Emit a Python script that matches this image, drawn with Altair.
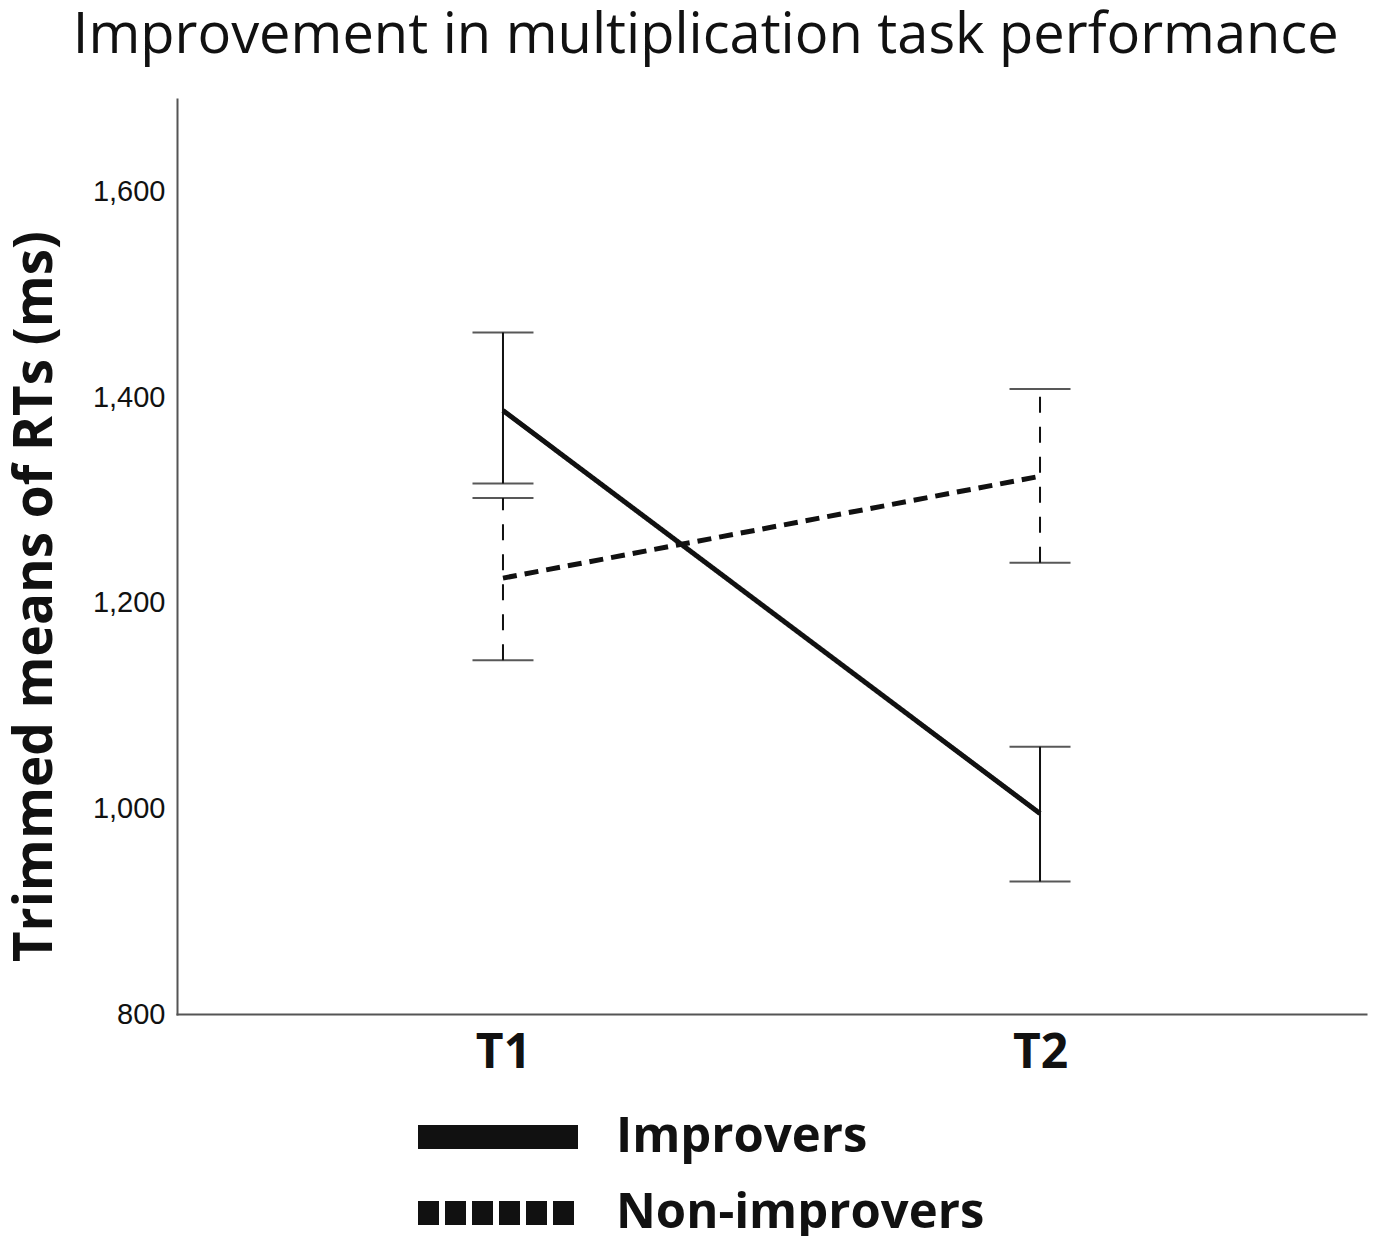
import altair as alt
import pandas as pd

times = ["T1", "T2"]
groups = ["Improvers", "Non-improvers"]
imp_mean = [1387, 995]
imp_low = [1316, 929]
imp_high = [1463, 1060]
non_mean = [1224, 1323]
non_low = [1144, 1239]
non_high = [1302, 1408]

rows = []
for i, t in enumerate(times):
    rows.append({"time": t, "group": groups[0], "mean": imp_mean[i], "low": imp_low[i], "high": imp_high[i]})
    rows.append({"time": t, "group": groups[1], "mean": non_mean[i], "low": non_low[i], "high": non_high[i]})
df = pd.DataFrame(rows)

INK = "#111111"
x_enc = alt.X("time:N", scale=alt.Scale(type="point", domain=times, padding=0.607),
              axis=alt.Axis(title=None, labelAngle=0, labelFont="Open Sans", labelFontWeight="bold",
                            labelFontSize=48, labelColor=INK, labelPadding=15, ticks=False,
                            domainColor="#555555", domainWidth=2))
y_scale = alt.Scale(domain=[800, 1690], nice=False, zero=False)
y_axis = alt.Axis(title="Trimmed means of RTs (ms)", values=[800, 1000, 1200, 1400, 1600], format=",d",
                  grid=False, ticks=False, labelFont="Liberation Sans", labelFontSize=29,
                  labelColor=INK, labelPadding=12, domainColor="#555555", domainWidth=2,
                  titleFont="Open Sans", titleFontWeight="bold", titleFontSize=53, titleColor=INK,
                  titlePadding=30, titleY=497)

dash_cond = alt.condition(alt.datum.group == "Non-improvers", alt.value([14, 8]), alt.value([1, 0]))
bar_dash = alt.condition(alt.datum.group == "Non-improvers", alt.value([16, 14]), alt.value([1, 0]))

base = alt.Chart(df)

lines = base.mark_line(color=INK, strokeWidth=5).encode(
    x=x_enc,
    y=alt.Y("mean:Q", scale=y_scale, axis=y_axis),
    detail="group:N",
    strokeDash=dash_cond,
)

bars = base.mark_rule(color=INK, strokeWidth=2).encode(
    x="time:N", y="low:Q", y2="high:Q", strokeDash=bar_dash,
)
cap_hi = base.mark_tick(color=INK, thickness=2, size=61, orient="horizontal").encode(
    x="time:N", y="high:Q", strokeDash=bar_dash,
)
cap_lo = base.mark_tick(color=INK, thickness=2, size=61, orient="horizontal").encode(
    x="time:N", y="low:Q", strokeDash=bar_dash,
)

legend_layer = base.mark_line(strokeWidth=0, color=INK).encode(
    x="time:N", y="mean:Q",
    strokeDash=alt.StrokeDash("group:N",
        scale=alt.Scale(domain=groups, range=[[1, 0], [21, 6]]),
        legend=alt.Legend(title=None, orient="none", legendX=293, legendY=1010,
                          symbolType="M-5,0H5", symbolSize=1024, symbolStrokeWidth=24,
                          symbolStrokeColor=INK, labelFont="Open Sans", labelFontWeight="bold",
                          labelFontSize=49, labelColor=INK, labelOffset=90, rowPadding=-21,
                          labelLimit=0, direction="vertical")),
)

chart = alt.layer(lines, bars, cap_hi, cap_lo, legend_layer).properties(
    width=1189, height=915,
    title=alt.TitleParams("Improvement in multiplication task performance", font="Open Sans",
                          fontSize=56, fontWeight="normal", color=INK, anchor="middle",
                          frame="bounds", offset=34, dx=18),
    padding={"left": 1, "top": 0, "right": 2, "bottom": 0},
).configure_view(stroke=None).configure_axis(domainCap="square")

chart.save("out.html", embed_options={"renderer": "svg", "actions": False})
